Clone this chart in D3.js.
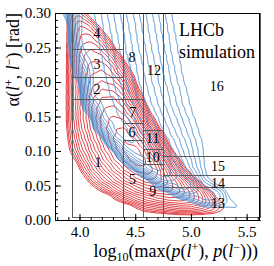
<!DOCTYPE html>
<html>
<head>
<meta charset="utf-8">
<script src="https://cdn.jsdelivr.net/npm/d3@7"></script>
<style>
    body { margin: 0; background: #fff; }
    svg { display: block; font-family: "Liberation Serif", "Times New Roman", serif; }
</style>
</head>
<body>
<script>
//axis ticks
var xTicks = [4.0, 4.5, 5.0, 5.5];
var yTicks = [0.00, 0.05, 0.10, 0.15, 0.20, 0.25, 0.30];

//bin edges: momentum columns, then the angle edges inside each column
var pEdges = [3.933, 4.386, 4.567, 4.752, 5.62];
var angleEdges = [
    [0.0048, 0.176, 0.2068, 0.248, 0.30],
    [0.0048, 0.116, 0.140, 0.176, 0.30],
    [0.0048, 0.0807, 0.1025, 0.1304, 0.30],
    [0.0048, 0.0478, 0.0652, 0.0928, 0.30]
];

//bin numbers and where they are written (log10 p, alpha)
var binNumber = [1, 2, 3, 4, 5, 6, 7, 8, 9, 10, 11, 12, 13, 14, 15, 16];
var binLabelU = [4.166, 4.157, 4.157, 4.157, 4.476, 4.471, 4.477, 4.471, 4.657, 4.657, 4.657, 4.669, 5.243, 5.243, 5.243, 5.232];
var binLabelAlpha = [0.0841, 0.190, 0.226, 0.271, 0.0594, 0.1275, 0.157, 0.236, 0.042, 0.0917, 0.1188, 0.2174, 0.0246, 0.054, 0.0783, 0.194];

//2d histogram cell centres used for the density contours
var histU = [3.85, 3.95, 4.05, 4.15, 4.25, 4.35, 4.45, 4.55, 4.65, 4.75, 4.85, 4.95, 5.05, 5.15, 5.25, 5.35, 5.45, 5.55];
var histAlpha = [0.306, 0.2909, 0.2758, 0.2607, 0.2456, 0.2305, 0.2154, 0.2003, 0.1852, 0.1701, 0.155,
    0.1399, 0.1248, 0.1097, 0.0946, 0.0795, 0.0644, 0.0493, 0.0342, 0.0191, 0.004];

//blue sample, rows from the top of the plot down
var blueHist = [
    [0, .18, .83, .52, .33, .205, .129, .081, .051, .032, .020, .013, .008, 0, 0, 0, 0, 0],
    [0, .06, .89, .56, .35, .22, .14, .087, .055, .035, .022, .014, .009, 0, 0, 0, 0, 0],
    [0, .02, .96, .60, .38, .24, .15, .094, .059, .037, .023, .015, .009, 0, 0, 0, 0, 0],
    [0, 0, .97, .65, .41, .26, .16, .10, .063, .040, .025, .016, .010, 0, 0, 0, 0, 0],
    [0, 0, .78, .70, .44, .27, .17, .11, .068, .043, .027, .017, .011, 0, 0, 0, 0, 0],
    [0, 0, .44, .76, .47, .30, .19, .12, .074, .047, .029, .018, .012, 0, 0, 0, 0, 0],
    [0, 0, .17, .83, .52, .33, .21, .13, .081, .051, .032, .020, .013, 0, 0, 0, 0, 0],
    [0, 0, .04, .91, .57, .36, .23, .14, .089, .056, .035, .022, .014, 0, 0, 0, 0, 0],
    [0, 0, 0, .99, .64, .40, .25, .16, .10, .063, .040, .025, .016, .010, 0, 0, 0, 0],
    [0, 0, 0, .48, .75, .46, .29, .18, .11, .070, .043, .027, .017, .010, 0, 0, 0, 0],
    [0, 0, 0, .03, .92, .57, .35, .22, .13, .082, .050, .031, .019, .012, 0, 0, 0, 0],
    [0, 0, 0, 0, .48, .74, .45, .27, .17, .10, .062, .038, .023, .014, .009, 0, 0, 0],
    [0, 0, 0, 0, .01, .97, .58, .34, .20, .12, .073, .043, .026, .015, .009, 0, 0, 0],
    [0, 0, 0, 0, 0, .056, .88, .50, .29, .165, .094, .054, .031, .018, .010, 0, 0, 0],
    [0, 0, 0, 0, 0, 0, .18, .73, .39, .21, .114, .062, .033, .018, .010, 0, 0, 0],
    [0, 0, 0, 0, 0, 0, 0, .054, .66, .32, .157, .077, .037, .018, .009, 0, 0, 0],
    [0, 0, 0, 0, 0, 0, 0, 0, 0, .47, .26, .11, .044, .018, .008, 0, 0, 0],
    [0, 0, 0, 0, 0, 0, 0, 0, 0, 0, .11, .35, .08, .03, .01, 0, 0, 0],
    [0, 0, 0, 0, 0, 0, 0, 0, 0, 0, 0, 0, .08, .145, .094, .013, 0, 0],
    [0, 0, 0, 0, 0, 0, 0, 0, 0, 0, 0, 0, 0, 0, .01, .037, .04, 0],
    [0, 0, 0, 0, 0, 0, 0, 0, 0, 0, 0, 0, 0, 0, 0, 0, 0, 0]
];

//red sample, same cells
var redHist = [
    [0, .023, 0, 0, 0, 0, 0, 0, 0, 0, 0, 0, 0, 0, 0, 0, 0, 0],
    [0, .024, .023, 0, 0, 0, 0, 0, 0, 0, 0, 0, 0, 0, 0, 0, 0, 0],
    [0, .024, .035, .0175, 0, 0, 0, 0, 0, 0, 0, 0, 0, 0, 0, 0, 0, 0],
    [0, .025, .040, .035, .0126, 0, 0, 0, 0, 0, 0, 0, 0, 0, 0, 0, 0, 0],
    [0, .025, .051, .051, .026, 0, 0, 0, 0, 0, 0, 0, 0, 0, 0, 0, 0, 0],
    [0, .026, .054, .058, .054, .0188, 0, 0, 0, 0, 0, 0, 0, 0, 0, 0, 0, 0],
    [0, .026, .056, .074, .074, .034, .011, 0, 0, 0, 0, 0, 0, 0, 0, 0, 0, 0],
    [0, .026, .058, .083, .083, .062, .018, 0, 0, 0, 0, 0, 0, 0, 0, 0, 0, 0],
    [0, .027, .058, .107, .107, .107, .030, .007, 0, 0, 0, 0, 0, 0, 0, 0, 0, 0],
    [0, .027, .058, .127, .137, .137, .055, .012, 0, 0, 0, 0, 0, 0, 0, 0, 0, 0],
    [0, .027, .058, .127, .168, .168, .110, .028, .006, 0, 0, 0, 0, 0, 0, 0, 0, 0],
    [0, .026, .056, .124, .199, .199, .190, .055, .012, 0, 0, 0, 0, 0, 0, 0, 0, 0],
    [0, .022, .046, .095, .189, .237, .237, .115, .032, .007, 0, 0, 0, 0, 0, 0, 0, 0],
    [0, .018, .038, .076, .148, .268, .289, .220, .065, .014, 0, 0, 0, 0, 0, 0, 0, 0],
    [0, .014, .029, .058, .110, .200, .327, .327, .110, .033, .008, 0, 0, 0, 0, 0, 0, 0],
    [0, 0, .020, .041, .076, .128, .215, .335, .255, .080, .022, .006, 0, 0, 0, 0, 0, 0],
    [0, 0, .012, .025, .046, .076, .120, .180, .249, .144, .045, .014, 0, 0, 0, 0, 0, 0],
    [0, 0, 0, .0137, .025, .040, .062, .090, .118, .148, .137, .050, .018, 0, 0, 0, 0, 0],
    [0, 0, 0, 0, 0, .018, .027, .039, .050, .062, .076, .088, .059, .025, 0, 0, 0, 0],
    [0, 0, 0, 0, 0, 0, 0, .0146, .018, .021, .026, .029, .029, .027, .023, .012, 0, 0],
    [0, 0, 0, 0, 0, 0, 0, 0, 0, 0, 0, 0, 0, 0, 0, 0, 0, 0]
];

//contour levels as fractions of the peak density
var blueLevels = [0.75, 0.574, 0.439, 0.336, 0.257, 0.197, 0.15, 0.115, 0.088, 0.067, 0.052, 0.040, 0.030];
var redLevels = [0.88, 0.728, 0.602, 0.498, 0.412, 0.341, 0.282, 0.233, 0.193, 0.159, 0.132, 0.109, 0.090, 0.075, 0.062, 0.051, 0.042, 0.035];

var w = 274, h = 266;

var svg = d3.select("body")
    .append("svg")
    .attr("width", w)
    .attr("height", h);

//scales
var x = d3.scaleLinear()
    .domain([3.78, 5.62])
    .range([55, 260]);

var y = d3.scaleLinear()
    .domain([0, 0.30])
    .range([220, 13]);

svg.append("defs").append("clipPath")
    .attr("id", "plotClip")
    .append("rect")
    .attr("x", x(3.78))
    .attr("y", y(0.30))
    .attr("width", x(5.62) - x(3.78))
    .attr("height", y(0) - y(0.30));

//turn a histogram into weighted cells
function histCells(hist){
    var cells = [];
    hist.forEach(function(row, i){
        row.forEach(function(v, j){
            if (v > 0) cells.push([histU[j], histAlpha[i], v]);
        });
    });
    return cells;
}

function densityLines(cells, bw, levels){
    return d3.contourDensity()
        .x(function(d){ return x(d[0]); })
        .y(function(d){ return y(d[1]); })
        .weight(function(d){ return d[2]; })
        .size([w, h])
        .cellSize(1)
        .bandwidth(bw)
        .thresholds(function(values){
            var top = d3.max(values);
            return levels.map(function(l){ return l * top; });
        })(cells);
}

var plot = svg.append("g").attr("clip-path", "url(#plotClip)");
var geoPath = d3.geoPath();

var redLines = densityLines(histCells(redHist), 7, redLevels);
var blueLines = densityLines(histCells(blueHist), 6.5, blueLevels);

plot.selectAll(".red")
    .data(redLines)
    .enter()
    .append("path")
    .attr("class", "red")
    .attr("d", geoPath)
    .attr("fill", "none")
    .attr("stroke", "#e23b3f")
    .attr("stroke-width", 1);

plot.selectAll(".blue")
    .data(blueLines)
    .enter()
    .append("path")
    .attr("class", "blue")
    .attr("d", geoPath)
    .attr("fill", "none")
    .attr("stroke", "#4b8fd1")
    .attr("stroke-width", 1);

//bin boxes
var bins = [];
angleEdges.forEach(function(edges, c){
    for (var k = 0; k < edges.length - 1; k++){
        bins.push({p0: pEdges[c], p1: pEdges[c + 1], a0: edges[k], a1: edges[k + 1]});
    }
});

function px(v){ return Math.round(x(v)) + 0.5; }
function py(v){ return Math.round(y(v)) + 0.5; }

svg.selectAll(".bin")
    .data(bins)
    .enter()
    .append("rect")
    .attr("class", "bin")
    .attr("x", function(d){ return px(d.p0); })
    .attr("y", function(d){ return py(d.a1); })
    .attr("width", function(d){ return px(d.p1) - px(d.p0); })
    .attr("height", function(d){ return py(d.a0) - py(d.a1); })
    .attr("fill", "none")
    .attr("stroke", "#5a5a5a")
    .attr("stroke-width", 1);

//bin numbers
svg.selectAll(".binNum")
    .data(binNumber)
    .enter()
    .append("text")
    .attr("class", "binNum")
    .attr("x", function(d, i){ return x(binLabelU[i]); })
    .attr("y", function(d, i){ return y(binLabelAlpha[i]); })
    .attr("dy", "0.35em")
    .attr("text-anchor", "middle")
    .attr("font-size", 14)
    .text(function(d){ return d; });

//frame top and right
svg.append("path")
    .attr("d", "M" + (x(3.78) + 0.5) + "," + (y(0.30) + 0.5) + "H" + (x(5.62) - 0.5) + "V" + (y(0) + 0.5))
    .attr("fill", "none")
    .attr("stroke", "#000");

//axes, major and minor ticks pointing inward
var yMinor = d3.range(0, 31).map(function(i){ return i / 100; });
var xMinor = d3.range(38, 57).map(function(i){ return i / 10; });

svg.append("g")
    .attr("transform", "translate(" + x(3.78) + ",0)")
    .call(d3.axisLeft(y).tickValues(yMinor).tickSize(-3).tickSizeOuter(0).tickFormat(""));

var yAxis = svg.append("g")
    .attr("class", "axis")
    .attr("transform", "translate(" + x(3.78) + ",0)")
    .call(d3.axisLeft(y).tickValues(yTicks).tickSize(-6).tickSizeOuter(0).tickPadding(4).tickFormat(d3.format(".2f")));

svg.append("g")
    .attr("transform", "translate(0," + y(0) + ")")
    .call(d3.axisBottom(x).tickValues(xMinor).tickSize(-3).tickSizeOuter(0).tickFormat(""));

var xAxis = svg.append("g")
    .attr("class", "axis")
    .attr("transform", "translate(0," + y(0) + ")")
    .call(d3.axisBottom(x).tickValues(xTicks).tickSize(-6).tickSizeOuter(0).tickPadding(6).tickFormat(d3.format(".1f")));

svg.selectAll(".axis")
    .attr("font-family", "Liberation Serif, serif")
    .attr("font-size", 15);

//y title
var yTitle = svg.append("text")
    .attr("transform", "translate(19," + y(0.30) + ") rotate(-90)")
    .attr("text-anchor", "end")
    .attr("font-size", 18);
yTitle.append("tspan").text("\u03b1(");
yTitle.append("tspan").attr("font-style", "italic").text("l");
yTitle.append("tspan").attr("dy", -6).attr("font-size", 12).text("+");
yTitle.append("tspan").attr("dy", 6).text(", ");
yTitle.append("tspan").attr("font-style", "italic").text("l");
yTitle.append("tspan").attr("dy", -6).attr("font-size", 12).text("\u2212");
yTitle.append("tspan").attr("dy", 6).text(") [rad]");

//x title
var xTitle = svg.append("text")
    .attr("x", 258)
    .attr("y", 257)
    .attr("text-anchor", "end")
    .attr("font-size", 18);
xTitle.append("tspan").text("log");
xTitle.append("tspan").attr("dy", 4).attr("font-size", 12).text("10");
xTitle.append("tspan").attr("dy", -4).text("(max(");
xTitle.append("tspan").attr("font-style", "italic").text("p");
xTitle.append("tspan").text("(");
xTitle.append("tspan").attr("font-style", "italic").text("l");
xTitle.append("tspan").attr("dy", -6).attr("font-size", 12).text("+");
xTitle.append("tspan").attr("dy", 6).text("), ");
xTitle.append("tspan").attr("font-style", "italic").text("p");
xTitle.append("tspan").text("(");
xTitle.append("tspan").attr("font-style", "italic").text("l");
xTitle.append("tspan").attr("dy", -6).attr("font-size", 12).text("\u2212");
xTitle.append("tspan").attr("dy", 6).text(")))");

//experiment tag
svg.append("text")
    .attr("x", x(4.893))
    .attr("y", y(0.2667))
    .attr("font-size", 18)
    .text("LHCb");

svg.append("text")
    .attr("x", x(4.893))
    .attr("y", y(0.2348))
    .attr("font-size", 18)
    .text("simulation");
</script>
</body>
</html>
